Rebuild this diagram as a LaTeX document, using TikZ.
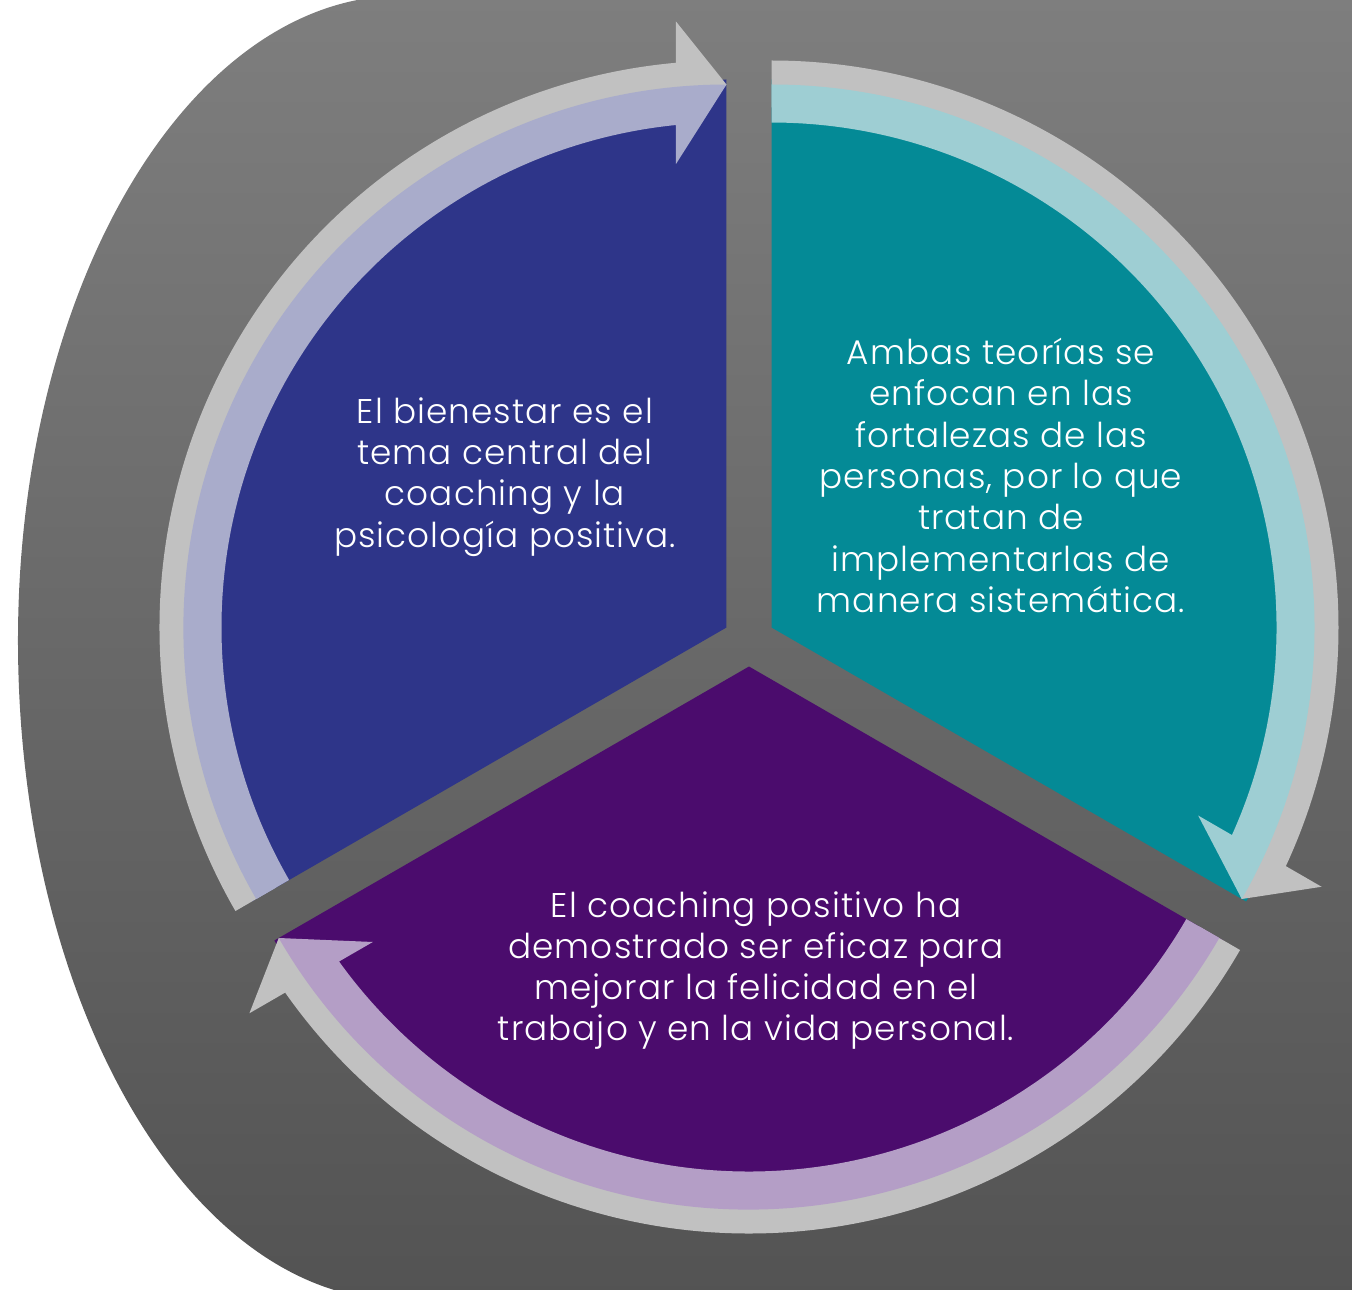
\documentclass[tikz,border=0pt]{standalone}
\usepackage{fontspec}
\setmainfont{Poppins Light}[LetterSpace=3]
\definecolor{bgtop}{HTML}{7E7E7E}
\definecolor{bgbot}{HTML}{535353}
\definecolor{arrowgrey}{HTML}{C1C1C1}
\definecolor{sblue}{HTML}{2E3589}
\definecolor{tblue}{HTML}{A9ACCB}
\definecolor{steal}{HTML}{048A96}
\definecolor{tteal}{HTML}{9ECED3}
\definecolor{spurple}{HTML}{4B0C6D}
\definecolor{tpurple}{HTML}{B49EC6}

% one segment of the cycle: wedge, grey arrow behind, tinted arrow in front
\newcommand{\cyclepart}[3]{%
  \begin{scope}[rotate=#1]
    \begin{scope}[shift={(150:26)}]
      \fill[#2] (0,0) -- (210:548) arc[start angle=210,end angle=90,radius=548] -- cycle;
      \fill[arrowgrey] (210:520) -- (210:567)
        arc[start angle=210,end angle=95.11,radius=567]
        -- (-50.5,606) -- (0,543) -- (92:520)
        arc[start angle=92,end angle=210,radius=520] -- cycle;
      \fill[#3] (210:543) arc[start angle=210,end angle=90,radius=543]
        -- (-50.5,463.5) -- (-50.5,502.5)
        arc[start angle=95.74,end angle=210,radius=505] -- cycle;
    \end{scope}
  \end{scope}}

\begin{document}
\begin{tikzpicture}[x=0.02cm,y=0.02cm,
  txt/.style={text=white,align=center,inner sep=0pt,
    font=\fontsize{19.5}{23.5}\selectfont}]
\useasboundingbox (-749,-648.5) rectangle (603,640.5);

% backdrop
\begin{scope}
  \clip (-749,-648.5) rectangle (603,640.5);
  \shade[top color=bgtop,bottom color=bgbot]
    (-346,645) arc[start angle=90,end angle=180,x radius=385,y radius=645]
    arc[start angle=180,end angle=270,x radius=385,y radius=660]
    -- (700,-660) -- (700,645) -- cycle;
\end{scope}

% the three segments
\cyclepart{0}{sblue}{tblue}
\cyclepart{-120}{steal}{tteal}
\cyclepart{-240}{spurple}{tpurple}

% texts
\node[txt] (t1) at (-244,163.5) {El bienestar es el\\tema central del\\coaching y la\\psicología positiva.};
\node[txt] (t2) at (252,165) {Ambas teorías se\\enfocan en las\\fortalezas de las\\personas, por lo que\\tratan de\\implementarlas de\\manera sistemática.};
\node[txt] (t3) at (7,-330) {El coaching positivo ha\\demostrado ser eficaz para\\mejorar la felicidad en el\\trabajo y en la vida personal.};
\end{tikzpicture}
\end{document}
